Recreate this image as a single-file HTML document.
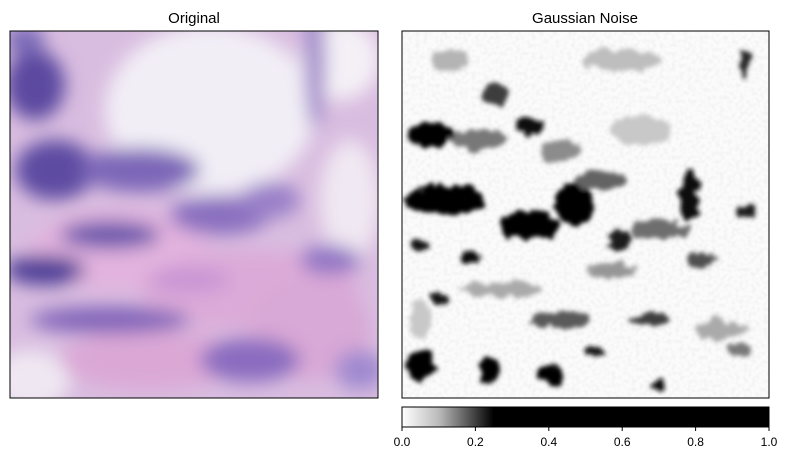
<!DOCTYPE html>
<html><head><meta charset="utf-8"><style>
html,body{margin:0;padding:0;background:#fff;}
svg{display:block;font-family:"Liberation Sans","DejaVu Sans",sans-serif;}
</style></head><body>
<svg id="fig" width="790" height="460" viewBox="0 0 790 460">
<defs>
<filter id="b1" x="-50%" y="-50%" width="200%" height="200%"><feGaussianBlur stdDeviation="9"/></filter>
<filter id="b2" x="-50%" y="-50%" width="200%" height="200%">
<feTurbulence type="fractalNoise" baseFrequency="0.09" numOctaves="2" seed="3" result="n"/>
<feDisplacementMap in="SourceGraphic" in2="n" scale="14" xChannelSelector="R" yChannelSelector="G" result="d"/>
<feGaussianBlur in="d" stdDeviation="2.5"/>
</filter>
<filter id="speck" x="0" y="0" width="100%" height="100%">
<feTurbulence type="fractalNoise" baseFrequency="0.25" numOctaves="1" seed="7"/>
<feColorMatrix type="matrix" values="0 0 0 0 0.5  0 0 0 0 0.5  0 0 0 0 0.5  0 0 0 -3 1.75"/>
</filter>
<clipPath id="cL"><rect x="10" y="31" width="368" height="367"/></clipPath>
<clipPath id="cR"><rect x="402" y="31" width="367" height="367"/></clipPath>
<linearGradient id="cg" x1="0" x2="1" y1="0" y2="0">
<stop offset="0" stop-color="#fff"/><stop offset="0.1" stop-color="#bbb"/><stop offset="0.25" stop-color="#000"/><stop offset="1" stop-color="#000"/>
</linearGradient>
</defs>
<text x="194" y="23" text-anchor="middle" font-size="15" fill="#000">Original</text>
<text x="585" y="23" text-anchor="middle" font-size="15" fill="#000">Gaussian Noise</text>
<g clip-path="url(#cL)">
<rect x="10" y="31" width="368" height="367" fill="#d9bde0"/>
<g id="leftBlobs" filter="url(#b1)"></g>
</g>
<rect x="10" y="31" width="368" height="367" fill="none" stroke="#000" stroke-width="1"/>
<g clip-path="url(#cR)">
<rect x="402" y="31" width="367" height="367" fill="#fbfbfb"/>
<rect x="402" y="31" width="367" height="367" filter="url(#speck)" opacity="0.12"/>
<g id="rightBlobs" filter="url(#b2)"></g>
</g>
<rect x="402" y="31" width="367" height="367" fill="none" stroke="#000" stroke-width="1"/>
<rect x="402" y="407" width="367" height="20" fill="url(#cg)" stroke="#000" stroke-width="1"/>
<g id="cbTicks"></g>
</svg>
<script>
// left image blobs: [cx, cy, rx, ry, color]
const leftBlobs = [
[210,110,105,85,"#f2eef6"],[340,60,40,40,"#f4f0f6"],[350,200,30,60,"#f0e8f2"],[30,380,40,30,"#efe8f2"],
[120,250,90,40,"#e2b3de"],[250,290,110,40,"#dcaad8"],[150,360,90,30,"#dba8d6"],[310,330,60,50,"#d8a8d6"],
[35,85,30,35,"#5c4aa0"],[25,40,20,15,"#7a6ab8"],[55,170,40,30,"#5d4ca2"],[140,170,60,22,"#7b66b8"],
[220,215,50,20,"#8a70c0"],[270,200,30,18,"#9a80c8"],[45,270,40,15,"#4e3e96"],[110,235,50,14,"#6a56ac"],
[110,320,80,14,"#8366ba"],[250,360,50,22,"#8a6cc0"],[330,260,30,15,"#9276c4"],[315,60,10,70,"#9c84c8"],
[190,280,40,12,"#c894d4"],[360,370,25,20,"#a08ad0"]
];
// right image blobs: [cx, cy, rx, ry, gray]
const rightBlobs = [
[430,135,25,12,0],[445,200,40,15,0],[530,225,30,15,0],[575,205,20,20,0],[530,125,15,8,10],
[420,365,15,15,0],[490,370,10,12,0],[550,375,12,10,0],[595,350,10,6,20],[660,385,6,6,10],
[690,195,10,25,10],[745,65,6,15,40],[745,210,10,6,30],[440,300,8,6,20],[470,258,10,5,10],
[420,245,10,5,20],[495,95,12,12,60],[620,240,10,10,30],[600,180,25,10,100],[650,320,20,6,60],
[560,320,30,8,90],[480,140,30,10,120],[700,260,15,8,80],[720,330,25,10,170],[620,60,40,10,190],
[450,60,20,10,180],[500,290,40,8,170],[640,130,30,15,200],[740,350,10,8,120],
[660,230,30,10,110],[560,150,20,12,140],[420,320,10,20,200],[610,270,25,8,150]
];
const cbValues = [0.0,0.2,0.4,0.6,0.8,1.0];
const cbLabels = ["0.0","0.2","0.4","0.6","0.8","1.0"];
const NS="http://www.w3.org/2000/svg";
const L=document.getElementById('leftBlobs');
leftBlobs.forEach(b=>{const e=document.createElementNS(NS,'ellipse');
e.setAttribute('cx',b[0]);e.setAttribute('cy',b[1]);e.setAttribute('rx',b[2]);e.setAttribute('ry',b[3]);e.setAttribute('fill',b[4]);


L.appendChild(e);});
const R=document.getElementById('rightBlobs');
rightBlobs.forEach(b=>{const e=document.createElementNS(NS,'ellipse');
e.setAttribute('cx',b[0]);e.setAttribute('cy',b[1]);e.setAttribute('rx',b[2]);e.setAttribute('ry',b[3]);e.setAttribute('fill',`rgb(${b[4]},${b[4]},${b[4]})`);


R.appendChild(e);});
const T=document.getElementById('cbTicks');
const cx=v=>402+v*367;
cbValues.forEach((v,i)=>{
const l=document.createElementNS(NS,'line');
l.setAttribute('x1',cx(v));l.setAttribute('x2',cx(v));l.setAttribute('y1',427);l.setAttribute('y2',431);l.setAttribute('stroke','#000');


T.appendChild(l);
const t=document.createElementNS(NS,'text');
t.setAttribute('x',cx(v));t.setAttribute('y',446);t.setAttribute('text-anchor','middle');t.setAttribute('font-size','12');
t.textContent=cbLabels[i];


T.appendChild(t);});
</script>
</body></html>
